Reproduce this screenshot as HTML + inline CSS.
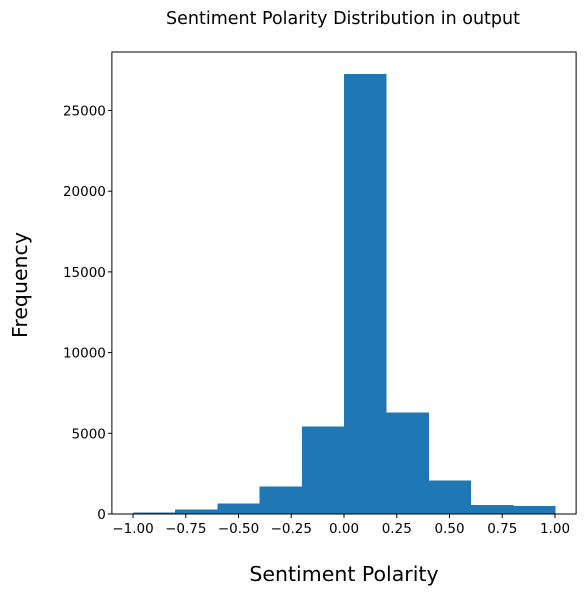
<!DOCTYPE html>
<html><head><meta charset="utf-8"><style>
body{margin:0;background:#fff;font-family:"Liberation Sans","DejaVu Sans",sans-serif;}
</style></head><body>
<svg id="chart" width="586" height="595" xmlns="http://www.w3.org/2000/svg" font-family="DejaVu Sans, Liberation Sans, sans-serif">
<text x="343" y="24" text-anchor="middle" font-size="17.5">Sentiment Polarity Distribution in output</text>
<text transform="translate(27,285) rotate(-90)" text-anchor="middle" font-size="20.5">Frequency</text>
<text x="344" y="581" text-anchor="middle" font-size="20.5">Sentiment Polarity</text>
<g id="bars" shape-rendering="crispEdges"></g>
<g id="axes"></g>
</svg>
<script>
const binEdges = [-1.0,-0.8,-0.6,-0.4,-0.2,0.0,0.2,0.4,0.6,0.8,1.0];
const counts = [80,270,640,1690,5410,27260,6280,2060,560,500];
const xTicks = [-1.0,-0.75,-0.5,-0.25,0,0.25,0.5,0.75,1.0];
const xTickLabels = ["\u22121.00","\u22120.75","\u22120.50","\u22120.25","0.00","0.25","0.50","0.75","1.00"];
const yTicks = [0,5000,10000,15000,20000,25000];
const yTickLabels = ["0","5000","10000","15000","20000","25000"];

const L=111.9,R=576.1,T=52,B=514;
const xMin=-1.1,xMax=1.1;
const yMax=Math.max(...counts)*1.05;
const xs=v=>L+(v-xMin)/(xMax-xMin)*(R-L);
const ys=v=>B-v/yMax*(B-T);
const NS="http://www.w3.org/2000/svg";
const bars=document.getElementById('bars');
counts.forEach((c,i)=>{
  const r=document.createElementNS(NS,'rect');
  r.setAttribute('x',xs(binEdges[i]));
  r.setAttribute('width',xs(binEdges[i+1])-xs(binEdges[i])+0.5);
  r.setAttribute('y',ys(c));
  r.setAttribute('height',B-ys(c));
  r.setAttribute('fill','#1f77b4');
  
  
  bars.appendChild(r);
});
const axes=document.getElementById('axes');
const frame=document.createElementNS(NS,'rect');
frame.setAttribute('x',L);frame.setAttribute('y',T);
frame.setAttribute('width',R-L);frame.setAttribute('height',B-T);
frame.setAttribute('fill','none');frame.setAttribute('stroke','#000');frame.setAttribute('stroke-width','1');


axes.appendChild(frame);
xTicks.forEach((v,i)=>{
  const x=xs(v);
  const l=document.createElementNS(NS,'line');
  l.setAttribute('x1',x);l.setAttribute('x2',x);l.setAttribute('y1',B);l.setAttribute('y2',B+4);
  l.setAttribute('stroke','#000');
  
  
  axes.appendChild(l);
  const t=document.createElementNS(NS,'text');
  t.setAttribute('x',x);t.setAttribute('y',B+19);t.setAttribute('text-anchor','middle');t.setAttribute('font-size','13.5');
  t.textContent=xTickLabels[i];
  
  
  axes.appendChild(t);
});
yTicks.forEach((v,i)=>{
  const y=ys(v);
  const l=document.createElementNS(NS,'line');
  l.setAttribute('x1',L-4);l.setAttribute('x2',L);l.setAttribute('y1',y);l.setAttribute('y2',y);
  l.setAttribute('stroke','#000');
  
  
  axes.appendChild(l);
  const t=document.createElementNS(NS,'text');
  t.setAttribute('x',L-6);t.setAttribute('y',y+5);t.setAttribute('text-anchor','end');t.setAttribute('font-size','13.5');
  t.textContent=yTickLabels[i];
  
  
  axes.appendChild(t);
});
</script>
</body></html>
